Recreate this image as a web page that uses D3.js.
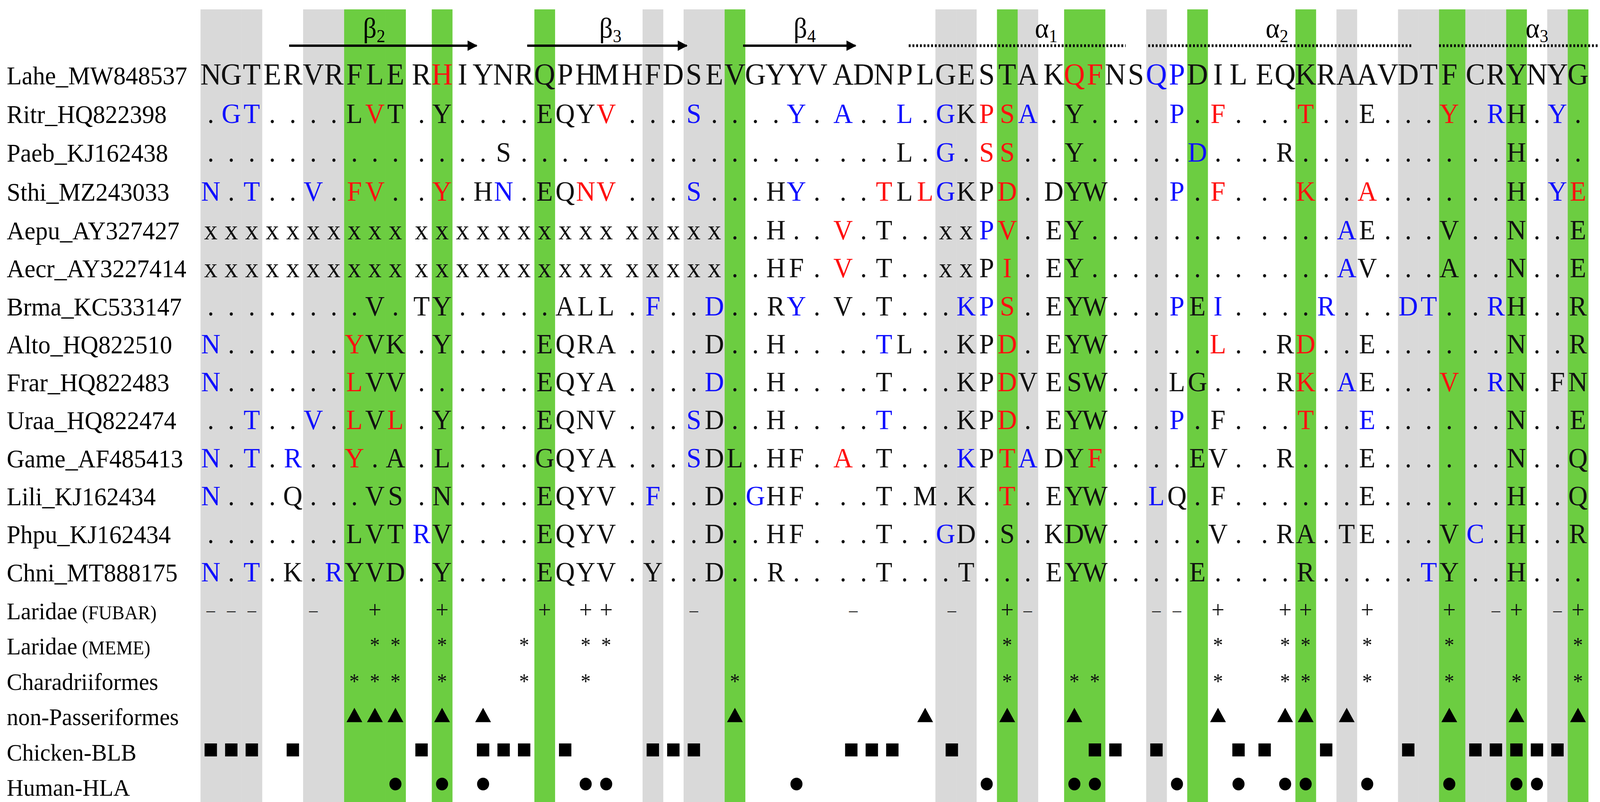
<!DOCTYPE html>
<html><head><meta charset="utf-8">
<script src="https://cdn.jsdelivr.net/npm/d3@7"></script>
<style>html,body{margin:0;padding:0;background:#fff;overflow:hidden;width:100%;height:100%}svg{display:block}</style>
</head><body>
<script>
// ---------- data ----------
const seqNames = ["Lahe_MW848537","Ritr_HQ822398","Paeb_KJ162438","Sthi_MZ243033","Aepu_AY327427","Aecr_AY3227414","Brma_KC533147","Alto_HQ822510","Frar_HQ822483","Uraa_HQ822474","Game_AF485413","Lili_KJ162434","Phpu_KJ162434","Chni_MT888175"];
const seqs = [
 "NGTERVRFLE"+"RHIYNRQPHM"+"HFDSEVGYYV"+"ADNPLGESTA"+"KQFNSQPDIL"+"EQKRAAVDTF"+"CRYNYG",
 ".GT....LVT"+".Y....EQYV"+"...S....Y."+"A..L.GKPSA"+".Y....P.F."+"..T..E...Y"+".RH.Y.",
 ".........."+"....S....."+".........."+"...L.G.SS."+".Y.....D.."+".R........"+"..H...",
 "N.T..V.FV."+".Y.HN.EQNV"+"...S...HY."+"..TLLGKPD."+"DYW...P.F."+"..K..A...."+"..H.YE",
 "xxxxxxxxxx"+"xxxxxxxxxx"+"xxxxx..H.."+"V.T..xxPV."+"EY........"+"....AE...V"+"..N..E",
 "xxxxxxxxxx"+"xxxxxxxxxx"+"xxxxx..HF."+"V.T..xxPI."+"EY........"+"....AV...A"+"..N..E",
 "........V."+"TY.....ALL"+".F..D..RY."+"V.T...KPS."+"EYW...PEI."+"...R...DT."+".RH..R",
 "N......YVK"+".Y....EQRA"+"....D..H.."+"..TL..KPD."+"EYW.....L."+".RD..E...."+"..N..R",
 "N......LVV"+"......EQYA"+"....D..H.."+"..T...KPDV"+"ESW...LG.."+".RK.AE...V"+".RN.FN",
 "..T..V.LVL"+".Y....EQNV"+"...SD..H.."+"..T...KPD."+"EYW...P.F."+"..T..E...."+"..N..E",
 "N.T.R..Y.A"+".L....GQYA"+"...SDL.HF."+"A.T...KPTA"+"DYF....EV."+".R...E...."+"..N..Q",
 "N...Q...VS"+".N....EQYV"+".F..D.GHF."+"..T.M.K.T."+"EYW..LQ.F."+".....E...."+"..H..Q",
 ".......LVT"+"RV....EQYV"+"....D..HF."+"..T..GD.S."+"KDW.....V."+".RA.TE...V"+"C.H..R",
 "N.T.K.RYVD"+".Y....EQYV"+".Y..D..R.."+"..T...T..."+"EYW....E.."+"..R.....TY"+"..H..."
];
// colour masks: b = blue, r = red, other = black
const seqColors = [
 ".........."+".r........"+".........."+".........."+".rr..bb..."+".........."+"......",
 ".bb.....r."+".........r"+"...b....b."+"b..b.b.rrb"+"......b.r."+"..r......r"+".b..b.",
 ".........."+".........."+".........."+".....b.rr."+".......b.."+".........."+"......",
 "b.b..b.rr."+".r..b...rr"+"...b....b."+"..r.rb..r."+"......b.r."+"..r..r...."+"....br",
 ".........."+".........."+".........."+"r......br."+".........."+"....b....."+"......",
 ".........."+".........."+".........."+"r.......r."+".........."+"....b....."+"......",
 ".........."+".........."+".b..b...b."+"......bbr."+"......b.b."+"...b...bb."+".b....",
 "b......r.."+".........."+".........."+"..b.....r."+"........r."+"..r......."+"......",
 "b......r.."+".........."+"....b....."+"........r."+".........."+"..r.b....r"+".b....",
 "..b..b.r.r"+".........."+"...b......"+"..b.....r."+"......b..."+"..r..b...."+"......",
 "b.b.b..r.."+".........."+"...b......"+"r.....b.rb"+"..r......."+".........."+"......",
 "b........."+".........."+".b....b..."+"........r."+".....b...."+".........."+"......",
 ".........."+"b........."+".........."+".....b...."+".........."+".........."+"b.....",
 "b.b...b..."+".........."+".........."+".........."+".........."+"........b."+"......"
];
const greyCols  = [0,1,2,5,6,21,23,24,35,36,39,45,54,57,58,60,61,64];
const greenCols = [7,8,9,11,16,25,38,41,42,47,52,59,62,65];

const annoNames = [["Laridae"," (FUBAR)"],["Laridae"," (MEME)"],["Charadriiformes",""],["non-Passeriformes",""],["Chicken-BLB",""],["Human-HLA",""]];
const fubarMinus = [0,1,2,5,23,30.5,35.3,39,45,46,61,64];
const fubarPlus  = [8,11,16,18,19,38,48,51,52,55,59,62,65];
const memeStar   = [8,9,11,15,18,19,38,48,51,52,55,59,65];
const charStar   = [7,8,9,11,15,18,25,38,41,42,48,51,52,55,59,62,65];
const nonPassTri = [7,8,9,11,13,25,34,38,41,48,51,52,54,59,62,65];
const chickenSq  = [0,1,2,4,10,13,14,15,17,21,22,23,30.4,31.4,32.4,35.3,42,43,45,49,50,53,57,60,61,62,63,64];
const humanDot   = [9,11,13,18,19,28,37,41,42,46,49,51,52,55,59,62,63];

// secondary structure: [label, subscript, start col, end col, label col, type]
const strands = [["β","2",3.82,12.68,7.96,"arrow"],["β","3",15.15,22.65,19.2,"arrow"],["β","4",25.4,30.6,28.4,"arrow"],
                 ["α","1",33.2,43.5,39.9,"dots"],["α","2",44.6,57.2,50.6,"dots"],["α","3",58.5,66.0,63.0,"dots"]];

// ---------- layout ----------
const W = 4289, H = 2054, P = 55, G = 15;
const slot = i => i + Math.floor(i/10)*(G/P);
const xs = d3.scaleLinear().domain([0,1]).range([565,565+P]);
const X = i => xs(slot(i));
const rowY = d3.scaleLinear().domain([0,4,14,19]).range([216,613,1586,2038]);
const COL = {b:"#1010ff", r:"#ff1010"};
const FONT = "'Liberation Serif','Times New Roman',serif";

const svg = d3.select("body").append("svg")
  .attr("width","100%").attr("height","100%")
  .attr("viewBox",`0 0 ${W} ${H}`).attr("preserveAspectRatio","none")
  .style("font-family",FONT);

// bands
const bandSet = new Set([...greyCols,...greenCols]);
function bands(cols, fill){
  svg.append("g").selectAll("rect").data(cols).join("rect")
    .attr("x", d=>X(d)-P/2).attr("y",24)
    .attr("width", d=> P + ((d%10===9 && bandSet.has(d+1)) ? G : 0) + 0.5)
    .attr("height", H-24).attr("fill", fill);
}
bands(greyCols,"#d9d9d9");
bands(greenCols,"#6ccd41");

// secondary structure
const defs = svg.append("defs");
defs.append("marker").attr("id","ah").attr("viewBox","0 0 10 10").attr("refX",9).attr("refY",5)
  .attr("markerWidth",4.5).attr("markerHeight",4.5).attr("orient","auto")
  .append("path").attr("d","M0,0L10,5L0,10Z").attr("fill","#000");
const ss = svg.append("g");
strands.forEach(s=>{
  const ln = ss.append("line").attr("x1",X(s[2])).attr("x2",Math.min(X(s[3]),W-4)).attr("y1",117).attr("y2",117)
    .attr("stroke","#000");
  if(s[5]==="arrow") ln.attr("stroke-width",6).attr("marker-end","url(#ah)");
  else ln.attr("stroke-width",7).attr("stroke-dasharray","5 5");
  const t = ss.append("text").attr("x",X(s[4])).attr("y",96).attr("text-anchor","middle")
    .attr("font-size",72).text(s[0]);
  t.append("tspan").attr("font-size",46).attr("dy",12).text(s[1]);
});

// names
const names = svg.append("g");
seqNames.forEach((n,k)=>{
  names.append("text").attr("x",18).attr("y",rowY(k)).attr("font-size",66).text(n);
});
annoNames.forEach((n,j)=>{
  const t = names.append("text").attr("x",18).attr("y",rowY(14+j)).attr("font-size",62).text(n[0]);
  if(n[1]) t.append("tspan").attr("font-size",50).text(n[1]);
});

// sequences
seqs.forEach((s,k)=>{
  const chars = s.split("").map((c,i)=>({c,i,col:seqColors[k][i]}));
  svg.append("g").selectAll("text").data(chars.filter(d=>d.c!==" ")).join("text")
    .attr("x",d=>X(d.i)).attr("y",rowY(k)).attr("text-anchor","middle")
    .attr("font-size", k===0 ? 78 : 72)
    .attr("fill",d=>COL[d.col]||"#111").text(d=>d.c);
});

// annotation rows
function txtRow(cols,row,ch,size,dy){
  svg.append("g").selectAll("text").data(cols).join("text")
    .attr("x",d=>X(d)).attr("y",rowY(row)+dy).attr("text-anchor","middle")
    .attr("font-size",size).attr("fill","#111").text(ch);
}
txtRow(fubarMinus,14,"–",46,-8);
txtRow(fubarPlus,14,"+",62,-4);
txtRow(memeStar,15,"*",54,-6);
txtRow(charStar,16,"*",54,-4);
function symRow(cols,row,type,size,dy){
  svg.append("g").selectAll("path").data(cols).join("path")
    .attr("transform",d=>`translate(${X(d)},${rowY(row)+dy})`)
    .attr("d",d3.symbol().type(type).size(size)()).attr("fill","#000");
}
symRow(nonPassTri,17,d3.symbolTriangle,780,-20);
symRow(chickenSq,18,d3.symbolSquare,1100,-27);
symRow(humanDot,19,d3.symbolCircle,820,-30);
</script>
</body></html>
